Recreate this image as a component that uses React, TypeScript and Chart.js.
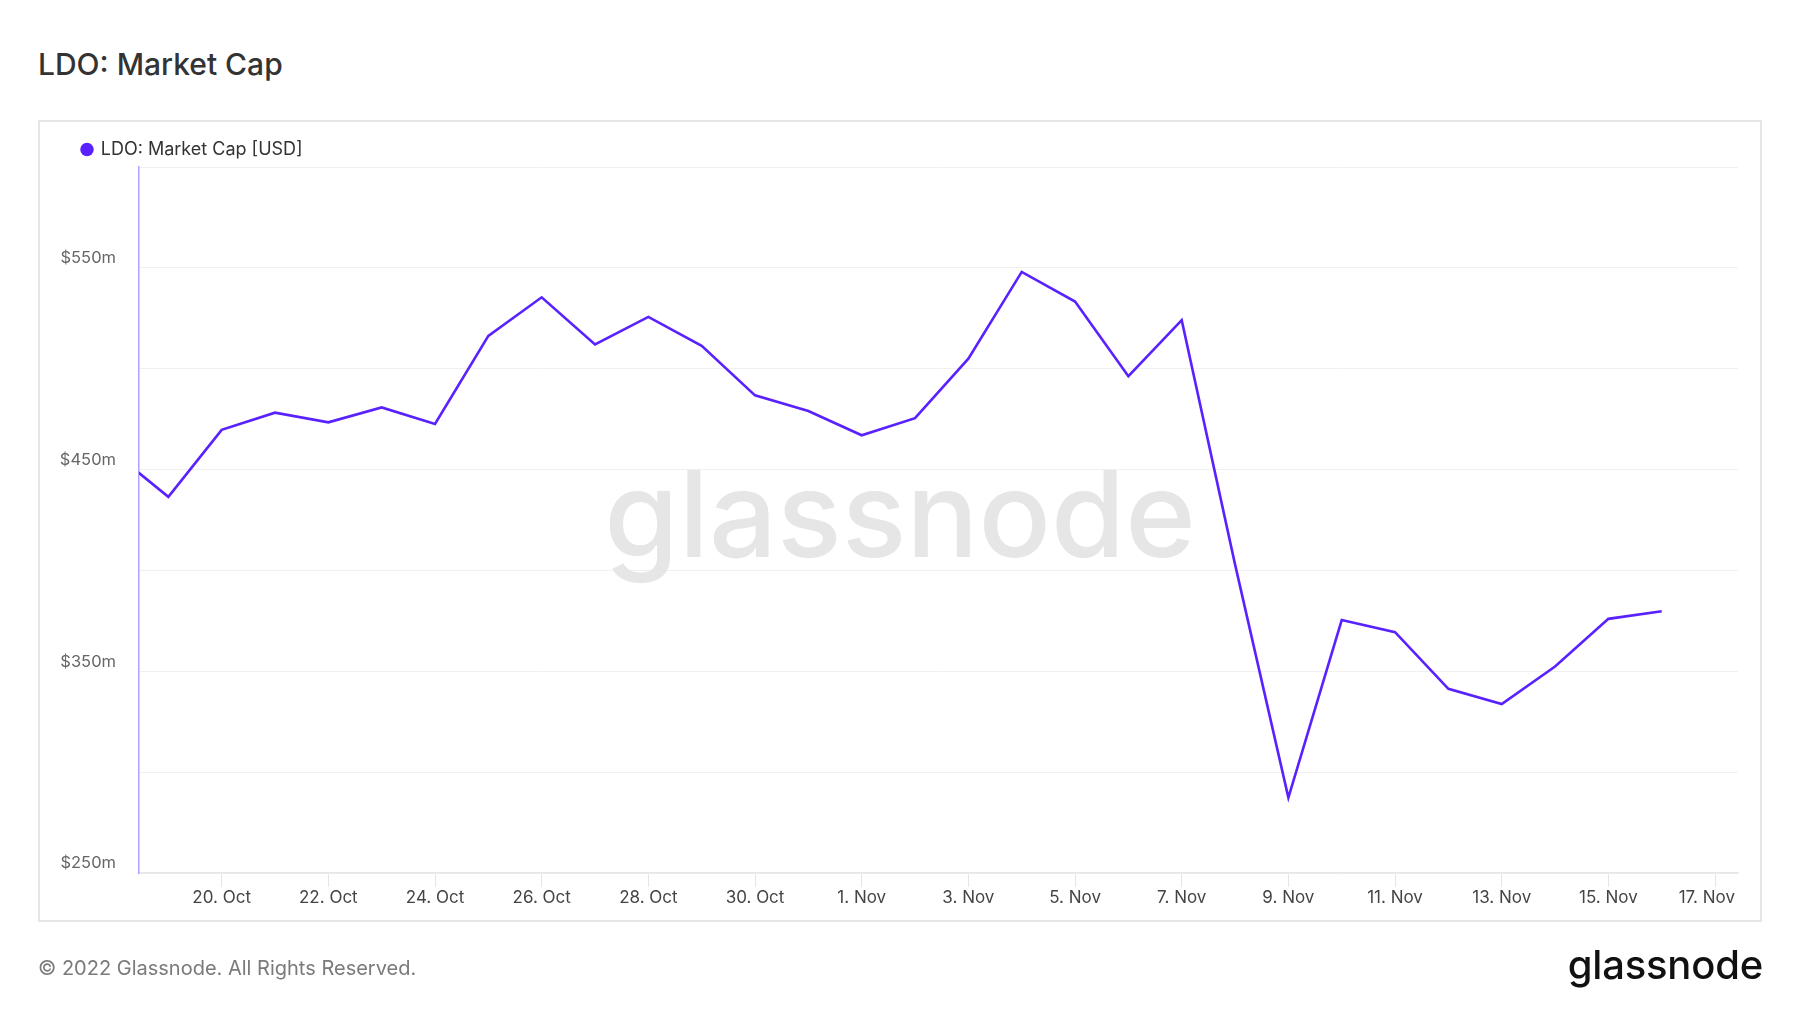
import React, { useEffect, useRef } from "react";
import { Chart, registerables } from "chart.js";

Chart.register(...registerables);

// Day index 0 = 18 Oct 2022
const dayIndex = [
  0, 1, 2, 3, 4, 5, 6, 7, 8, 9, 10, 11, 12, 13, 14, 15, 16, 17, 18, 19, 20, 21,
  22, 23, 24, 25, 26, 27, 28, 29,
];
const dateLabels = [
  "18 Oct", "19 Oct", "20 Oct", "21 Oct", "22 Oct", "23 Oct", "24 Oct", "25 Oct",
  "26 Oct", "27 Oct", "28 Oct", "29 Oct", "30 Oct", "31 Oct", "1 Nov", "2 Nov",
  "3 Nov", "4 Nov", "5 Nov", "6 Nov", "7 Nov", "8 Nov", "9 Nov", "10 Nov",
  "11 Nov", "12 Nov", "13 Nov", "14 Nov", "15 Nov", "16 Nov",
];
// Market cap in USD millions
const marketCap = [
  458, 436.5, 469.7, 478.2, 473.4, 480.8, 472.6, 516.3, 535.4, 512, 525.7, 511.3,
  486.8, 479, 467, 475.5, 505, 548, 533.3, 496.3, 524.1, 403, 287.4, 375.4,
  369.4, 341.3, 333.8, 352.4, 376, 379.8,
];

const xTickDays = [2, 4, 6, 8, 10, 12, 14, 16, 18, 20, 22, 24, 26, 28, 30];
const xTickLabels = [
  "20. Oct", "22. Oct", "24. Oct", "26. Oct", "28. Oct", "30. Oct", "1. Nov",
  "3. Nov", "5. Nov", "7. Nov", "9. Nov", "11. Nov", "13. Nov", "15. Nov", "17. Nov",
];
const yLabelValues = [250, 350, 450, 550];

const seriesName = "LDO: Market Cap [USD]";
const lineColor = "#5a21ff";
const FONT = "Inter, 'Noto Sans', sans-serif";

export default function App() {
  const canvasRef = useRef<HTMLCanvasElement | null>(null);

  useEffect(() => {
    const canvas = canvasRef.current;
    if (!canvas) return;

    const legendPlace = {
      id: "legendPlace",
      afterLayout(chart: any) {
        if (chart.legend) {
          chart.legend.left = 75.25;
          chart.legend.top += 1.5;
        }
      },
    };

    const watermark = {
      id: "watermark",
      beforeDatasetsDraw(chart: any) {
        const ctx = chart.ctx;
        ctx.save();
        ctx.font = `500 120px ${FONT}`;
        ctx.fillStyle = "#e6e6e6";
        ctx.textAlign = "center";
        ctx.textBaseline = "alphabetic";
        ctx.fillText("glassnode", 900, 557);
        ctx.restore();
      },
    };

    const xLabels = {
      id: "xLabels",
      afterDraw(chart: any) {
        const ctx = chart.ctx;
        const scale = chart.scales.x;
        const area = chart.chartArea;
        ctx.save();
        ctx.font = `400 17px ${FONT}`;
        ctx.fillStyle = "#444444";
        ctx.textBaseline = "middle";
        ctx.textAlign = "center";
        xTickDays.forEach((d, i) => {
          const label = xTickLabels[i];
          const w = ctx.measureText(label).width;
          let cx = scale.getPixelForValue(d);
          if (cx + w / 2 > area.right - 3) cx = area.right - 3 - w / 2;
          ctx.fillText(label, cx, area.bottom + 25);
        });
        ctx.restore();
      },
    };

    const chart = new Chart(canvas, {
      type: "line",
      data: {
        datasets: [
          {
            label: seriesName,
            data: dayIndex.map((d, i) => ({ x: d, y: marketCap[i] })),
            borderColor: lineColor,
            backgroundColor: lineColor,
            borderWidth: 2.6,
            pointRadius: 0,
            tension: 0,
            clip: 0,
          } as any,
        ],
      },
      options: {
        animation: false,
        responsive: false,
        devicePixelRatio: 1,
        layout: { padding: { left: 30, top: 132, right: 62, bottom: 100 } },
        plugins: {
          legend: {
            display: true,
            position: "top",
            align: "start",
            labels: {
              usePointStyle: true,
              pointStyle: "circle",
              boxWidth: 9.5,
              boxHeight: 9.5,
              padding: 7,
              color: "#333333",
              font: { family: FONT, size: 18 },
              generateLabels: (c: any) =>
                (Chart.defaults.plugins.legend.labels as any)
                  .generateLabels(c)
                  .map((l: any) => ({ ...l, lineWidth: 0, fillStyle: lineColor, strokeStyle: lineColor })),
            },
          },
          tooltip: { enabled: false },
          title: { display: false },
        },
        scales: {
          x: {
            type: "linear",
            min: 0.45,
            max: 30.43,
            afterBuildTicks: (scale: any) => {
              scale.ticks = xTickDays.map((v) => ({ value: v }));
            },
            afterFit: (scale: any) => {
              scale.height = 40;
            },
            ticks: { display: false },
            grid: {
              drawOnChartArea: false,
              drawTicks: true,
              tickLength: 14,
              color: "#e6e6e6",
              lineWidth: 1,
            },
            border: { display: true, color: "#e6e6e6", width: 1.5 },
          },
          y: {
            type: "linear",
            min: 250,
            max: 600,
            afterBuildTicks: (scale: any) => {
              const t = [];
              for (let v = 250; v <= 600; v += 50) t.push({ value: v });
              scale.ticks = t;
            },
            afterFit: (scale: any) => {
              scale.width = 109;
            },
            ticks: {
              autoSkip: false,
              padding: 23,
              labelOffset: -9.5,
              color: "#666666",
              font: { family: FONT, size: 16.5 },
              callback: (v: any) => (yLabelValues.includes(Number(v)) ? `$${v}m` : ""),
            },
            grid: {
              drawTicks: false,
              color: "#f0f0f0",
              lineWidth: 1,
            },
            border: { display: true, color: "#b4a0ff", width: 1.5 },
          },
        },
      },
      plugins: [legendPlace, watermark, xLabels],
    });

    return () => chart.destroy();
  }, []);

  return (
    <div
      style={{
        position: "absolute",
        left: 0,
        top: 0,
        width: 1800,
        height: 1013,
        background: "#ffffff",
        fontFamily: FONT,
        overflow: "hidden",
      }}
    >
      <div
        style={{
          position: "absolute",
          left: 38,
          top: 49,
          fontSize: 30,
          lineHeight: "30px",
          fontWeight: 500,
          color: "#333333",
          whiteSpace: "nowrap",
        }}
      >
        LDO: Market Cap
      </div>
      <div
        style={{
          position: "absolute",
          left: 38,
          top: 120,
          width: 1724,
          height: 802,
          boxSizing: "border-box",
          border: "2px solid #e6e6e6",
        }}
      />
      <canvas
        ref={canvasRef}
        width={1800}
        height={1013}
        style={{ position: "absolute", left: 0, top: 0, width: 1800, height: 1013 }}
      />
      <div
        style={{
          position: "absolute",
          left: 38,
          top: 958,
          fontSize: 20,
          lineHeight: "20px",
          color: "#7a7a7a",
          whiteSpace: "nowrap",
        }}
      >
        © 2022 Glassnode. All Rights Reserved.
      </div>
      <div
        style={{
          position: "absolute",
          right: 37,
          top: 945,
          fontSize: 40,
          lineHeight: "40px",
          fontWeight: 500,
          color: "#111111",
          letterSpacing: -0.2,
          whiteSpace: "nowrap",
        }}
      >
        glassnode
      </div>
    </div>
  );
}
